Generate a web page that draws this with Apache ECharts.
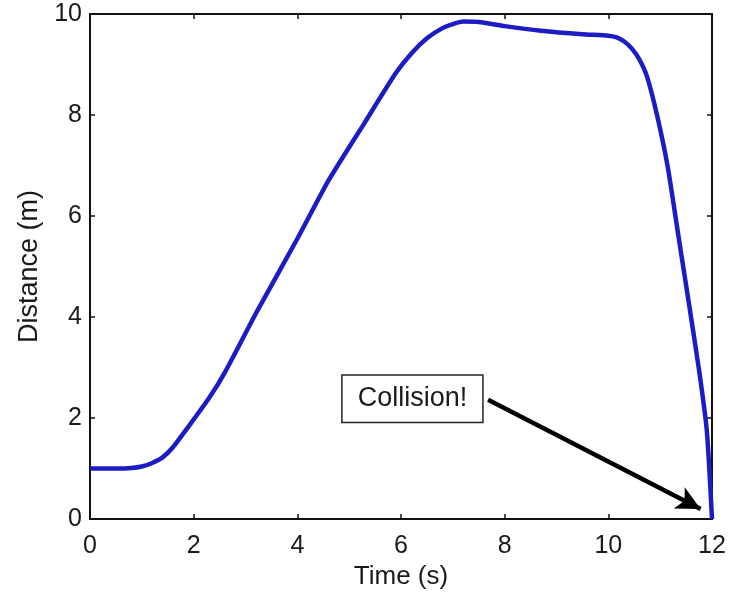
<!DOCTYPE html>
<html>
<head>
<meta charset="utf-8">
<script src="https://cdn.jsdelivr.net/npm/echarts@6/dist/echarts.min.js"></script>
<style>
html,body{margin:0;padding:0;background:#fff;}
#chart{width:735px;height:592px;}
</style>
</head>
<body>
<div id="chart"></div>
<script>
var timeS = [0, 0.5, 0.8, 1.0, 1.2, 1.4, 1.6, 1.9, 2.3, 2.6, 3.2, 4.0, 4.6, 5.3, 5.9, 6.2, 6.5, 6.8, 7.0, 7.2, 7.5, 8.0, 8.7, 9.5, 10.0, 10.15, 10.3, 10.45, 10.6, 10.75, 10.95, 11.15, 11.35, 11.55, 11.75, 11.9, 12];
var distanceM = [1.0, 1.0, 1.01, 1.04, 1.11, 1.22, 1.42, 1.83, 2.4, 2.9, 4.07, 5.55, 6.7, 7.85, 8.83, 9.22, 9.52, 9.72, 9.8, 9.85, 9.84, 9.76, 9.67, 9.6, 9.57, 9.54, 9.46, 9.32, 9.1, 8.75, 7.95, 6.95, 5.62, 4.3, 2.95, 1.75, 0];
var annotationText = 'Collision!';
var annotationPos = [6.22, 2.38];
var arrowStart = [7.68, 2.36];
var arrowEnd = [11.78, 0.2];

var data = timeS.map(function (t, i) { return [t, distanceM[i]]; });
var font = '"Liberation Sans", Arial, sans-serif';
var txt = '#1a1a1a';

var chart = echarts.init(document.getElementById('chart'), null, {renderer: 'canvas'});
function axisBase(extra) {
  return Object.assign({
    type: 'value',
    axisLine: {show: true, onZero: false, lineStyle: {color: '#111', width: 2}},
    axisTick: {show: true, inside: true, length: 5, lineStyle: {color: '#111', width: 1.5}},
    splitLine: {show: false}
  }, extra);
}
chart.setOption({
  animation: false,
  backgroundColor: '#fff',
  grid: {left: 90, right: 23, top: 14, bottom: 73, containLabel: false, outerBoundsMode: 'none'},
  xAxis: [
    axisBase({
      min: 0, max: 12, interval: 2, position: 'bottom',
      name: 'Time (s)', nameLocation: 'middle', nameGap: 43,
      nameTextStyle: {fontFamily: font, fontSize: 26, color: txt},
      axisLabel: {fontFamily: font, fontSize: 25, color: txt, margin: 15}
    }),
    axisBase({
      min: 0, max: 12, interval: 2, position: 'top',
      axisLabel: {show: false}
    })
  ],
  yAxis: [
    axisBase({
      min: 0, max: 10, interval: 2, position: 'left',
      name: 'Distance (m)', nameLocation: 'middle', nameGap: 47,
      nameTextStyle: {fontFamily: font, fontSize: 27, color: txt},
      axisLabel: {fontFamily: font, fontSize: 25, color: txt, margin: 8, padding: [6, 0, 0, 0]}
    }),
    axisBase({
      min: 0, max: 10, interval: 2, position: 'right',
      axisLabel: {show: false}
    })
  ],
  series: [{
    type: 'line',
    data: data,
    showSymbol: false,
    smooth: 0.2,
    lineStyle: {color: '#1c1cc4', width: 4.5},
    z: 3,
    markLine: {
      silent: true,
      symbol: ['none', 'arrow'],
      symbolSize: [18, 24],
      lineStyle: {color: '#000', width: 4.5, type: 'solid'},
      label: {show: false},
      data: [[{coord: arrowStart}, {coord: arrowEnd}]]
    },
    markPoint: {
      silent: true,
      symbol: 'rect',
      symbolSize: 0,
      data: [{coord: annotationPos}],
      label: {
        show: true,
        position: 'inside',
        formatter: annotationText,
        fontFamily: font,
        fontSize: 27,
        color: txt,
        backgroundColor: '#fff',
        borderColor: '#222',
        borderWidth: 1.5,
        padding: [10, 15, 9, 15]
      }
    }
  }]
});
</script>
</body>
</html>
